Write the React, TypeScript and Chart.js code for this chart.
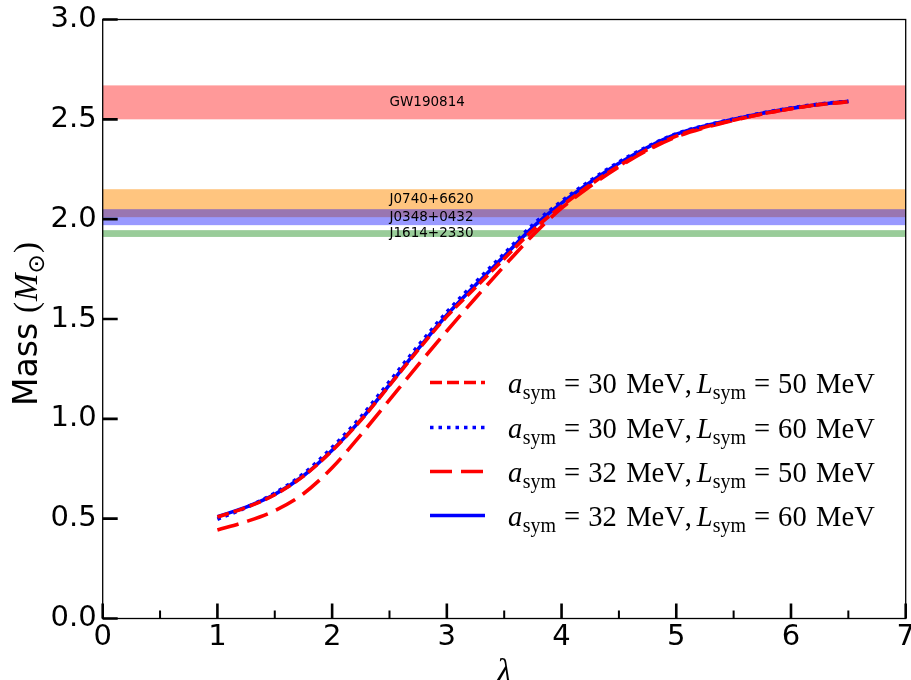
import React, { useEffect, useRef } from 'react';
import { Chart, registerables } from 'chart.js';

Chart.register(...registerables);

// ---------- data ----------
const lambdaValues = [1.0, 1.25, 1.5, 1.75, 2.0, 2.25, 2.5, 2.75, 3.0, 3.25, 3.5, 3.75, 4.0, 4.25, 4.5, 4.75, 5.0, 5.25, 5.5, 5.75, 6.0, 6.25, 6.5];

const mass_a30_L50 = [0.508, 0.556, 0.62, 0.713, 0.841, 0.993, 1.167, 1.345, 1.513, 1.658, 1.802, 1.945, 2.065, 2.172, 2.267, 2.349, 2.416, 2.461, 2.496, 2.527, 2.553, 2.574, 2.588];
const mass_a30_L60 = [0.497, 0.556, 0.628, 0.725, 0.857, 1.01, 1.187, 1.366, 1.535, 1.684, 1.828, 1.972, 2.09, 2.193, 2.286, 2.364, 2.428, 2.469, 2.502, 2.532, 2.557, 2.577, 2.591];
const mass_a32_L50 = [0.443, 0.485, 0.54, 0.625, 0.755, 0.92, 1.095, 1.27, 1.44, 1.605, 1.765, 1.92, 2.055, 2.165, 2.262, 2.345, 2.412, 2.458, 2.495, 2.527, 2.553, 2.574, 2.588];
const mass_a32_L60 = [0.51, 0.558, 0.622, 0.715, 0.843, 0.995, 1.17, 1.35, 1.52, 1.67, 1.815, 1.96, 2.08, 2.185, 2.28, 2.36, 2.425, 2.467, 2.50, 2.53, 2.555, 2.575, 2.59];

const seriesA = ['30', '30', '32', '32'];
const seriesL = ['50', '60', '50', '60'];

const bandNames = ['GW190814', 'J0740+6620', 'J0348+0432', 'J1614+2330'];
const bandLow = [2.50, 2.01, 1.97, 1.911];
const bandHigh = [2.67, 2.15, 2.05, 1.945];
const bandLabelY = [2.585, 2.10, 2.01, 1.928];
const bandLabelX = 2.5;

const xTicksMajor = [0, 1, 2, 3, 4, 5, 6, 7];
const xTicksMinor = [0.5, 1.5, 2.5, 3.5, 4.5, 5.5, 6.5];
const yTicksMajor = [0, 0.5, 1.0, 1.5, 2.0, 2.5, 3.0];

// ---------- styles ----------
const bandColors = ['rgba(255,0,0,0.4)', 'rgba(255,140,0,0.5)', 'rgba(0,0,255,0.4)', 'rgba(0,128,0,0.4)'];
const lineColors = ['#ff0000', '#0000ff', '#ff0000', '#0000ff'];
const lineDashes: number[][] = [[12, 5], [3.5, 5], [22, 9], []];
const LW = 3.6;
const SERIF = '"Liberation Serif", "DejaVu Serif", serif';
const SANS = '"DejaVu Sans", sans-serif';

type Piece = { t: string; font: string; dy: number; gap?: number };

function drawPieces(ctx: CanvasRenderingContext2D, pieces: Piece[], x: number, y: number) {
  let cx = x;
  for (const p of pieces) {
    ctx.font = p.font;
    ctx.fillText(p.t, cx, y + p.dy);
    cx += ctx.measureText(p.t).width + (p.gap || 0);
  }
  return cx - x;
}
function measurePieces(ctx: CanvasRenderingContext2D, pieces: Piece[]) {
  let w = 0;
  for (const p of pieces) {
    ctx.font = p.font;
    w += ctx.measureText(p.t).width + (p.gap || 0);
  }
  return w;
}

function legendPieces(a: string, L: string, s: number): Piece[] {
  const it = `italic ${s}px ${SERIF}`;
  const rm = `${s}px ${SERIF}`;
  const sub = `${s * 0.7}px ${SERIF}`;
  const sp = s * 0.28;
  return [
    { t: 'a', font: it, dy: 0, gap: 0.5 },
    { t: 'sym', font: sub, dy: s * 0.22, gap: sp },
    { t: '=', font: rm, dy: 0, gap: sp },
    { t: a, font: rm, dy: 0, gap: s * 0.33 },
    { t: 'MeV', font: rm, dy: 0, gap: 0 },
    { t: ',', font: rm, dy: 0, gap: s * 0.17 },
    { t: 'L', font: it, dy: 0, gap: 0 },
    { t: 'sym', font: sub, dy: s * 0.22, gap: sp },
    { t: '=', font: rm, dy: 0, gap: sp },
    { t: L, font: rm, dy: 0, gap: s * 0.33 },
    { t: 'MeV', font: rm, dy: 0, gap: 0 },
  ];
}

const decorPlugin = {
  id: 'decor',
  beforeDatasetsDraw(chart: any) {
    const { ctx, chartArea, scales } = chart;
    const xs = scales.x, ys = scales.y;
    ctx.save();
    for (let i = 0; i < bandNames.length; i++) {
      const yTop = ys.getPixelForValue(bandHigh[i]);
      const yBot = ys.getPixelForValue(bandLow[i]);
      ctx.fillStyle = bandColors[i];
      ctx.fillRect(chartArea.left, yTop, chartArea.right - chartArea.left, yBot - yTop);
    }
    ctx.fillStyle = '#000';
    ctx.font = `13.5px ${SANS}`;
    ctx.textAlign = 'left';
    ctx.textBaseline = 'middle';
    for (let i = 0; i < bandNames.length; i++) {
      ctx.fillText(bandNames[i], xs.getPixelForValue(bandLabelX), ys.getPixelForValue(bandLabelY[i]));
    }
    ctx.restore();
  },
  afterDraw(chart: any) {
    const { ctx, chartArea, scales } = chart;
    const xs = scales.x, ys = scales.y;
    const { left, right, top, bottom } = chartArea;
    ctx.save();
    // frame
    ctx.strokeStyle = '#000';
    ctx.lineWidth = 1.3;
    ctx.strokeRect(left, top, right - left, bottom - top);
    // ticks
    ctx.lineWidth = 2.6;
    ctx.beginPath();
    for (const v of yTicksMajor) {
      const p = ys.getPixelForValue(v);
      ctx.moveTo(left, p); ctx.lineTo(left + 15, p);
    }
    for (const v of xTicksMajor) {
      const p = xs.getPixelForValue(v);
      ctx.moveTo(p, bottom); ctx.lineTo(p, bottom - 15);
    }
    ctx.stroke();
    ctx.lineWidth = 2;
    ctx.beginPath();
    for (const v of xTicksMinor) {
      const p = xs.getPixelForValue(v);
      ctx.moveTo(p, bottom); ctx.lineTo(p, bottom - 8);
    }
    ctx.stroke();

    // legend
    const lx1 = 430, lx2 = 485, tx = 508;
    const baselines = [393, 438, 482, 526];
    ctx.fillStyle = '#000';
    ctx.textAlign = 'left';
    ctx.textBaseline = 'alphabetic';
    let size = 25;
    const w0 = measurePieces(ctx, legendPieces('30', '50', size));
    size = size * 367 / w0;
    for (let i = 0; i < 4; i++) {
      const ly = baselines[i] - 10.5;
      ctx.strokeStyle = lineColors[i];
      ctx.lineWidth = LW;
      ctx.setLineDash(lineDashes[i]);
      ctx.beginPath();
      ctx.moveTo(lx1, ly); ctx.lineTo(lx2, ly);
      ctx.stroke();
      ctx.setLineDash([]);
      drawPieces(ctx, legendPieces(seriesA[i], seriesL[i], size), tx, baselines[i]);
    }

    // y-axis title
    const ySize = 33;
    const yPieces: Piece[] = [
      { t: 'Mass', font: `${ySize}px ${SANS}`, dy: 0, gap: ySize * 0.3 },
      { t: '(', font: `${ySize}px ${SERIF}`, dy: 0, gap: 1 },
      { t: 'M', font: `italic ${ySize}px ${SERIF}`, dy: 0, gap: 0 },
      { t: '⊙', font: `${ySize * 0.7}px "DejaVu Sans"`, dy: ySize * 0.22, gap: 1 },
      { t: ')', font: `${ySize}px ${SERIF}`, dy: 0, gap: 0 },
    ];
    const yw = measurePieces(ctx, yPieces);
    ctx.save();
    ctx.translate(37, 324);
    ctx.rotate(-Math.PI / 2);
    drawPieces(ctx, yPieces, -yw / 2, 0);
    ctx.restore();

    // x-axis title
    ctx.font = `italic 34px ${SERIF}`;
    ctx.textAlign = 'center';
    ctx.textBaseline = 'alphabetic';
    ctx.fillText('λ', (left + right) / 2, 682);
    ctx.restore();
  },
};

export default function App() {
  const ref = useRef<HTMLCanvasElement | null>(null);
  useEffect(() => {
    const canvas = ref.current;
    if (!canvas) return;
    const seriesValues = [mass_a30_L50, mass_a30_L60, mass_a32_L50, mass_a32_L60];
    const datasets = seriesValues.map((vals, i) => ({
      label: `a_sym = ${seriesA[i]} MeV, L_sym = ${seriesL[i]} MeV`,
      data: lambdaValues.map((x, j) => ({ x, y: vals[j] })),
      borderColor: lineColors[i],
      backgroundColor: lineColors[i],
      borderWidth: LW,
      borderDash: lineDashes[i],
      borderCapStyle: 'butt' as const,
      pointRadius: 0,
      fill: false,
      cubicInterpolationMode: 'monotone' as const,
    }));
    const chart = new Chart(canvas, {
      type: 'line',
      data: { datasets },
      options: {
        responsive: false,
        animation: false,
        layout: { padding: { top: 19.5, right: 5.3, left: 0, bottom: 0 } },
        plugins: { legend: { display: false }, tooltip: { enabled: false } },
        scales: {
          x: {
            type: 'linear',
            min: 0,
            max: 7,
            ticks: { stepSize: 1, color: '#000', font: { family: 'DejaVu Sans', size: 29 }, padding: 2, maxRotation: 0, autoSkip: false },
            grid: { display: false, drawTicks: false },
            border: { display: false },
            afterFit: (s: any) => { s.height = 61.5; s.paddingLeft = 0; s.paddingRight = 0; },
          },
          y: {
            type: 'linear',
            min: 0,
            max: 3,
            ticks: { stepSize: 0.5, color: '#000', font: { family: 'DejaVu Sans', size: 29 }, padding: 6, callback: (v: any) => Number(v).toFixed(1) },
            grid: { display: false, drawTicks: false },
            border: { display: false },
            afterFit: (s: any) => { s.width = 102.7; s.paddingTop = 0; s.paddingBottom = 0; },
          },
        },
      },
      plugins: [decorPlugin],
    } as any);
    return () => chart.destroy();
  }, []);
  return (
    <div style={{ position: 'absolute', left: 0, top: 0, width: 911, height: 680, background: '#fff' }}>
      <canvas ref={ref} width={911} height={680} style={{ display: 'block' }} />
    </div>
  );
}
